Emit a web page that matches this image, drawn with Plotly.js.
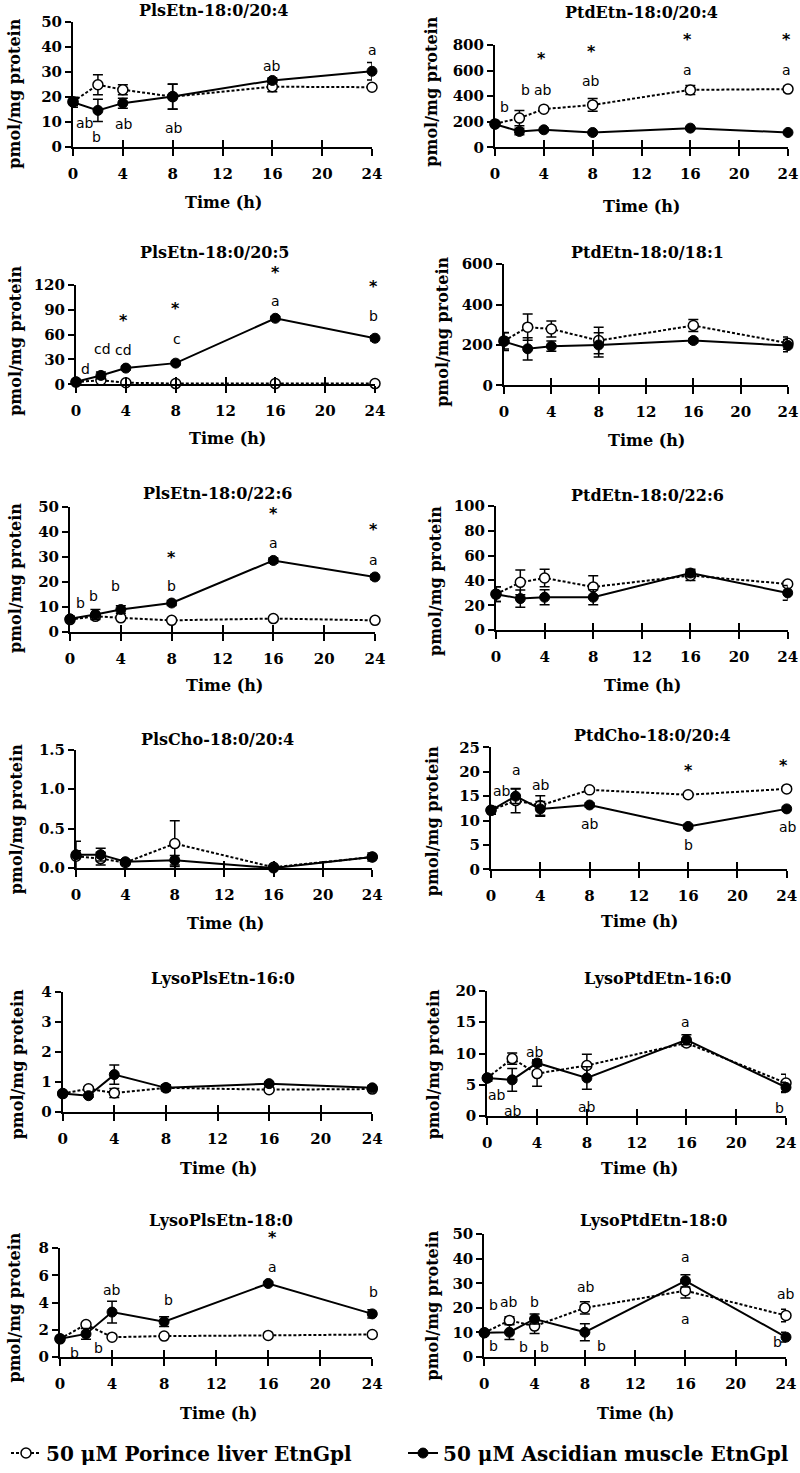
<!DOCTYPE html>
<html><head><meta charset="utf-8">
<script src="https://cdn.plot.ly/plotly-3.0.1.min.js"></script>
<style>body{margin:0;background:#fff}#chart{width:800px;height:1473px}</style>
</head><body><div id="chart"></div>
<script>
// ---------------- DATA ----------------
const times = [0, 2, 4, 8, 16, 24];
const xTickVals = [0, 4, 8, 12, 16, 20, 24];
const seriesNames = ['50 μM Porince liver EtnGpl', '50 μM Ascidian muscle EtnGpl'];
const panelTitles = ['PlsEtn-18:0/20:4', 'PtdEtn-18:0/20:4', 'PlsEtn-18:0/20:5', 'PtdEtn-18:0/18:1',
  'PlsEtn-18:0/22:6', 'PtdEtn-18:0/22:6', 'PlsCho-18:0/20:4', 'PtdCho-18:0/20:4',
  'LysoPlsEtn-16:0', 'LysoPtdEtn-16:0', 'LysoPlsEtn-18:0', 'LysoPtdEtn-18:0'];
const yMaxes = [50, 800, 120, 600, 50, 100, 1.5, 25, 4, 20, 8, 50];
const ySteps = [10, 200, 30, 200, 10, 20, 0.5, 5, 1, 5, 2, 10];

const porcine1 = [18, 24.8, 22.8, 20, 24, 23.8];
const porcineErr1 = [1.5, 4, 2, 5, 2, 0.5];
const ascidian1 = [17.8, 14.5, 17.4, 20.1, 26.5, 30.2];
const ascidianErr1 = [2, 4.5, 2, 5, 1, 3.5];
const labelText1 = ['ab', 'b', 'ab', 'ab', 'ab', 'a'];
const labelX1 = [1, 1.9, 4.1, 8.1, 16, 24];
const labelY1 = [9.4, 4, 9, 7.4, 32.4, 38.9];

const porcine2 = [184, 229, 299, 332, 449, 455];
const porcineErr2 = [15, 60, 10, 50, 35, 20];
const ascidian2 = [182, 125, 138, 117, 151, 117];
const ascidianErr2 = [15, 25, 10, 8, 8, 8];
const labelText2 = ['b', 'b', 'ab', '*', 'ab', '*', 'a', '*', 'a', '*'];
const labelX2 = [0.8, 2.5, 3.95, 3.8, 7.9, 7.9, 15.8, 15.8, 23.9, 23.9];
const labelY2 = [319, 450, 450, 696, 519, 748, 605, 844, 605, 844];

const porcine3 = [2.8, 5, 2, 1, 1, 1];
const porcineErr3 = [0.5, 1, 0.5, 0.3, 0.3, 0.3];
const ascidian3 = [3, 10.8, 19.6, 25.6, 79.6, 55.6];
const ascidianErr3 = [1, 4, 2, 2, 2, 3];
const labelText3 = ['d', 'cd', 'cd', '*', 'c', '*', 'a', '*', 'b', '*'];
const labelX3 = [0.8, 2.1, 3.85, 3.85, 8.1, 8.0, 16, 16, 23.9, 23.9];
const labelY3 = [18, 42.8, 41.6, 76.8, 54.8, 90.8, 100, 134.8, 82, 118];

const porcine4 = [220, 288, 279, 222, 296, 209];
const porcineErr4 = [40, 65, 40, 65, 30, 30];
const ascidian4 = [217, 181, 194, 200, 222, 197];
const ascidianErr4 = [45, 55, 25, 60, 10, 30];
const labelText4 = [];
const labelX4 = [];
const labelY4 = [];

const porcine5 = [4.9, 6.2, 5.6, 4.6, 5.3, 4.6];
const porcineErr5 = [0.5, 1, 0.5, 0.5, 0.5, 0.5];
const ascidian5 = [5.2, 6.9, 8.9, 11.5, 28.5, 21.9];
const ascidianErr5 = [1, 2, 1.5, 1, 1, 1];
const labelText5 = ['b', 'b', 'b', 'b', '*', 'a', '*', 'a', '*'];
const labelX5 = [0.8, 1.85, 3.6, 8, 8, 16, 16, 23.9, 23.9];
const labelY5 = [11.5, 14.2, 18.2, 18.2, 29.7, 35.4, 47.3, 28.8, 40.7];

const porcine6 = [29, 38.5, 42, 34.8, 44, 37.2];
const porcineErr6 = [6, 10, 7, 9, 4, 2];
const ascidian6 = [29, 25.4, 26.5, 26.5, 46, 30];
const ascidianErr6 = [6, 7, 6, 6, 3, 6];
const labelText6 = [];
const labelX6 = [];
const labelY6 = [];

const porcine7 = [0.15, 0.12, 0.07, 0.31, 0.01, 0.14];
const porcineErr7 = [0.19, 0.08, 0.02, 0.29, 0.01, 0.05];
const ascidian7 = [0.17, 0.17, 0.08, 0.1, 0.0, 0.14];
const ascidianErr7 = [0.05, 0.08, 0.02, 0.06, 0.01, 0.03];
const labelText7 = [];
const labelX7 = [];
const labelY7 = [];

const porcine8 = [12.1, 14.1, 13.1, 16.3, 15.3, 16.5];
const porcineErr8 = [0.5, 2.5, 2, 0.4, 0.4, 0.4];
const ascidian8 = [12.1, 15, 12.4, 13.2, 8.8, 12.4];
const ascidianErr8 = [0.8, 1.5, 1.5, 0.4, 0.4, 0.4];
const labelText8 = ['ab', 'a', 'ab', 'ab', '*', 'b', '*', 'ab'];
const labelX8 = [0.87, 2.1, 4.05, 8, 16, 16, 23.7, 24.1];
const labelY8 = [16.1, 20.4, 17.2, 9.2, 20.2, 4.9, 21.3, 8.6];

const porcine9 = [0.61, 0.77, 0.63, 0.8, 0.74, 0.76];
const porcineErr9 = [0.05, 0.05, 0.15, 0.05, 0.05, 0.05];
const ascidian9 = [0.61, 0.54, 1.24, 0.8, 0.94, 0.8];
const ascidianErr9 = [0.05, 0.05, 0.32, 0.1, 0.05, 0.08];
const labelText9 = [];
const labelX9 = [];
const labelY9 = [];

const porcine10 = [6.1, 9.2, 6.8, 8.1, 11.7, 5.3];
const porcineErr10 = [0.5, 0.9, 2, 1.8, 0.5, 1.4];
const ascidian10 = [6.1, 5.8, 8.5, 6.1, 12.2, 4.6];
const ascidianErr10 = [0.5, 1.8, 0.5, 1.8, 0.8, 0.8];
const labelText10 = ['ab', 'ab', 'ab', 'ab', 'a', 'b'];
const labelX10 = [0.8, 2.1, 3.8, 8, 15.9, 23.5];
const labelY10 = [3.4, 0.8, 10.3, 1.5, 15.1, 1.3];

const porcine11 = [1.34, 2.39, 1.46, 1.54, 1.59, 1.66];
const porcineErr11 = [0.1, 0.1, 0.1, 0.1, 0.05, 0.05];
const ascidian11 = [1.34, 1.7, 3.3, 2.6, 5.4, 3.17];
const ascidianErr11 = [0.1, 0.4, 0.8, 0.35, 0.1, 0.3];
const labelText11 = ['b', 'b', 'ab', 'b', 'a', '*', 'b'];
const labelX11 = [1.15, 2.95, 4, 8.3, 16.3, 16.3, 24.1];
const labelY11 = [0.3, 0.7, 4.9, 4.2, 6.6, 8.8, 4.75];

const porcine12 = [9.9, 14.9, 12.6, 20, 27, 16.9];
const porcineErr12 = [0.5, 1.5, 3, 2.5, 3, 2.5];
const ascidian12 = [9.9, 10.1, 15.5, 10.1, 31, 8.1];
const ascidianErr12 = [0.5, 3, 2, 3.5, 2.5, 2];
const labelText12 = ['b', 'b', 'ab', 'b', 'b', 'b', 'ab', 'b', 'a', 'a', 'ab', 'b'];
const labelX12 = [0.7, 0.7, 2, 3.1, 4, 4.8, 8.1, 9.3, 16, 16, 24, 23.3];
const labelY12 = [21, 4.7, 22.3, 4, 22.3, 4, 28.6, 4.7, 40.5, 15.5, 25.7, 6];

const porcineAll = [porcine1, porcine2, porcine3, porcine4, porcine5, porcine6, porcine7, porcine8, porcine9, porcine10, porcine11, porcine12];
const porcineErrAll = [porcineErr1, porcineErr2, porcineErr3, porcineErr4, porcineErr5, porcineErr6, porcineErr7, porcineErr8, porcineErr9, porcineErr10, porcineErr11, porcineErr12];
const ascidianAll = [ascidian1, ascidian2, ascidian3, ascidian4, ascidian5, ascidian6, ascidian7, ascidian8, ascidian9, ascidian10, ascidian11, ascidian12];
const ascidianErrAll = [ascidianErr1, ascidianErr2, ascidianErr3, ascidianErr4, ascidianErr5, ascidianErr6, ascidianErr7, ascidianErr8, ascidianErr9, ascidianErr10, ascidianErr11, ascidianErr12];
const labelTextAll = [labelText1, labelText2, labelText3, labelText4, labelText5, labelText6, labelText7, labelText8, labelText9, labelText10, labelText11, labelText12];
const labelXAll = [labelX1, labelX2, labelX3, labelX4, labelX5, labelX6, labelX7, labelX8, labelX9, labelX10, labelX11, labelX12];
const labelYAll = [labelY1, labelY2, labelY3, labelY4, labelY5, labelY6, labelY7, labelY8, labelY9, labelY10, labelY11, labelY12];

// ---------------- LAYOUT GEOMETRY (pixels) ----------------
const W = 800, H = 1473;
const X_MAX = 24;
// [xLeft, xRight, yTop, yBottom] of each plot area
const boxes = [
  [73, 372, 22, 147], [495, 788, 45, 148],
  [76, 375, 285.7, 385.7], [504, 788, 265, 386.7],
  [70, 375, 508.3, 634], [496, 787.7, 507.7, 632.3],
  [76, 372.3, 752.3, 871], [491, 786.7, 750, 872.3],
  [62.7, 372.3, 995, 1115.7], [487.3, 786, 994.3, 1120],
  [60, 372.3, 1252.3, 1361.7], [484.3, 786, 1238.3, 1361.7]
];
const titlePos = [[213, 11], [641, 13], [214, 253], [647, 253], [217, 495], [647, 497],
  [217, 742], [652, 738], [223, 982], [657, 982], [221, 1225], [653, 1225]];
const yTitlePos = [[15, 94], [432, 92], [16, 342], [443, 333], [15, 580], [435, 583],
  [16, 822], [432, 824], [17, 1068], [433, 1068], [15, 1312], [433, 1310]];
const xTitlePos = [[223, 203], [641, 207], [227, 440], [646, 442], [224, 688], [642, 688],
  [226, 927], [639, 925], [218, 1172], [639, 1172], [218, 1418], [635, 1418]];

const px = v => v / W;
const py = v => 1 - v / H;
const serif = 'DejaVu Serif';
const sans = 'DejaVu Sans';

const traces = [];
const layout = {
  width: W, height: H,
  margin: {l: 0, r: 0, t: 0, b: 0},
  paper_bgcolor: '#fff', plot_bgcolor: 'rgba(0,0,0,0)',
  showlegend: true,
  legend: {orientation: 'h', x: px(8), xanchor: 'left', y: 1 - 1458 / H, yanchor: 'middle',
    font: {family: serif, size: 20, color: '#000', weight: 'bold'}, bgcolor: 'rgba(0,0,0,0)',
    entrywidth: 352, entrywidthmode: 'pixels', itemwidth: 30},
  annotations: []
};

for (let i = 0; i < 12; i++) {
  const n = i + 1;
  const b = boxes[i];
  const xa = 'x' + n, ya = 'y' + n;
  const ov = 'x' + (n + 12);
  const plotH = b[3] - b[2];
  const plotW = b[1] - b[0];
  const commonX = {range: [0, X_MAX], tickvals: xTickVals, showgrid: false, zeroline: false, fixedrange: true};
  layout['xaxis' + n] = Object.assign({}, commonX, {
    domain: [px(b[0]), px(b[1])], anchor: ya,
    ticks: 'outside', ticklen: 7, tickwidth: 2, tickcolor: '#000',
    showline: true, linewidth: 2, linecolor: '#000',
    tickfont: {family: serif, size: 15, color: '#000', weight: 'bold'},
    ticklabelstandoff: 5
  });
  layout['xaxis' + (n + 12)] = Object.assign({}, commonX, {
    overlaying: xa, anchor: ya, side: 'bottom', ticks: 'inside', ticklen: 7, tickwidth: 2, tickcolor: '#000',
    showline: false, showticklabels: false
  });
  layout['yaxis' + n] = {
    domain: [py(b[3]), py(b[2])], anchor: xa,
    range: [0, yMaxes[i]], dtick: ySteps[i], tick0: 0,
    tickformat: yMaxes[i] < 2 ? '.1f' : '',
    ticks: 'outside', ticklen: 6, tickwidth: 2, tickcolor: '#000',
    showline: true, linewidth: 2, linecolor: '#000', showgrid: false, zeroline: false, fixedrange: true,
    tickfont: {family: serif, size: 15, color: '#000', weight: 'bold'}
  };

  traces.push({x: times, y: porcineAll[i], xaxis: ov, yaxis: ya, mode: 'none', type: 'scatter',
    showlegend: false, hoverinfo: 'skip'});

  traces.push({
    x: times, y: porcineAll[i], xaxis: xa, yaxis: ya, type: 'scatter', mode: 'lines+markers',
    name: seriesNames[0], showlegend: i === 0, cliponaxis: false,
    line: {color: '#000', width: 2, dash: '3px,2px'},
    marker: {symbol: 'circle', size: 10, color: '#fff', line: {color: '#000', width: 1.5}},
    error_y: {type: 'data', array: porcineErrAll[i], visible: true, color: '#000', thickness: 1.5, width: 5}
  });
  traces.push({
    x: times, y: ascidianAll[i], xaxis: xa, yaxis: ya, type: 'scatter', mode: 'lines+markers',
    name: seriesNames[1], showlegend: i === 0, cliponaxis: false,
    line: {color: '#000', width: 2},
    marker: {symbol: 'circle', size: 10, color: '#000', line: {color: '#000', width: 1}},
    error_y: {type: 'data', array: ascidianErrAll[i], visible: true, color: '#000', thickness: 1.5, width: 5}
  });

  layout.annotations.push({xref: 'paper', yref: 'paper', x: px(titlePos[i][0]), y: py(titlePos[i][1]),
    xanchor: 'center', yanchor: 'middle', showarrow: false, text: panelTitles[i],
    font: {family: serif, size: 16, color: '#000', weight: 'bold'}});
  layout.annotations.push({xref: 'paper', yref: 'paper', x: px(yTitlePos[i][0]), y: py(yTitlePos[i][1]),
    xanchor: 'center', yanchor: 'middle', showarrow: false, textangle: -90, text: 'pmol/mg protein',
    font: {family: serif, size: 16, color: '#000', weight: 'bold'}});
  layout.annotations.push({xref: 'paper', yref: 'paper', x: px(xTitlePos[i][0]), y: py(xTitlePos[i][1]),
    xanchor: 'center', yanchor: 'middle', showarrow: false, text: 'Time (h)',
    font: {family: serif, size: 16, color: '#000', weight: 'bold'}});
  for (let k = 0; k < labelTextAll[i].length; k++) {
    const yv = labelYAll[i][k];
    const xv = labelXAll[i][k];
    const above = yv > yMaxes[i];
    const right = xv > X_MAX;
    const isStar = labelTextAll[i][k] === '*';
    layout.annotations.push({xref: xa, yref: ya,
      x: right ? X_MAX : xv,
      xshift: right ? (xv - X_MAX) / X_MAX * plotW : 0,
      y: above ? yMaxes[i] : yv,
      yshift: above ? (yv - yMaxes[i]) / yMaxes[i] * plotH : 0,
      xanchor: 'center', yanchor: 'middle', showarrow: false, text: labelTextAll[i][k],
      font: {family: sans, size: isStar ? 16 : 14, color: '#000', weight: isStar ? 'bold' : 'normal'}});
  }
}

Plotly.newPlot('chart', traces, layout, {staticPlot: true, displayModeBar: false});
</script>
</body></html>
